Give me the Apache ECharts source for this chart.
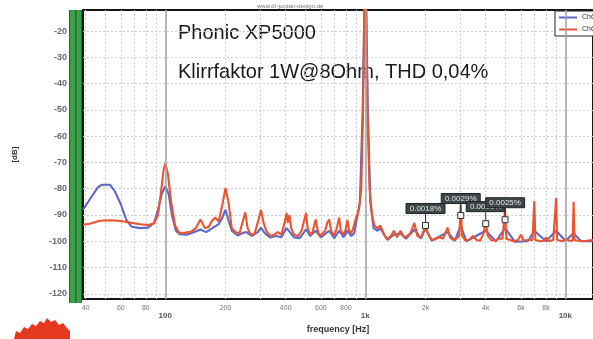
<!DOCTYPE html>
<html>
<head>
<meta charset="utf-8">
<script src="https://cdn.jsdelivr.net/npm/echarts@6/dist/echarts.min.js"></script>
<style>
  html, body { margin: 0; padding: 0; background: #fff; }
  #chart { width: 593px; height: 339px; }
</style>
</head>
<body>
<div id="chart"></div>
<script>
// spectrum, channel 1 (blue) as [Hz, dB]
const ch61 = [
  [38.8, -88], [42, -84], [46, -79.5], [48, -78.5], [53, -78.5], [56, -81], [60, -86], [64, -92],
  [68, -94.5], [75, -95], [82, -94.8], [88, -93], [92, -88], [96, -82], [100, -79.1], [104, -82],
  [108, -90], [113, -96], [118, -97.3], [128, -97.5], [140, -96.5], [150, -95.5], [160, -96.5],
  [172, -95], [185, -93.5], [193, -91], [200, -88], [207, -92], [215, -96], [230, -97.8], [245, -96.8],
  [255, -96.5], [270, -98], [290, -96.5], [301, -94.8], [315, -97], [335, -98.6], [360, -98],
  [380, -98.5], [404, -95], [420, -96.5], [440, -98.5], [470, -98.8], [506, -95.5], [530, -98],
  [565, -96], [600, -98.5], [660, -96], [700, -98.8], [740, -96], [780, -98.5], [814, -96],
  [850, -98], [880, -97], [900, -93], [940, -85], [970, -50], [990, -10], [1000, 0], [1010, -10],
  [1030, -50], [1060, -85], [1100, -95], [1150, -96], [1190, -95], [1290, -99.5], [1390, -97.5],
  [1500, -97], [1600, -99], [1760, -95.5], [1900, -99], [2000, -95], [2150, -99.8], [2580, -96.5],
  [2800, -99.8], [3000, -94], [3200, -100], [4000, -96], [4500, -100], [5000, -95], [5600, -100.2],
  [6500, -100], [7000, -96], [8000, -100], [9000, -96], [10000, -99.8], [11000, -97],
  [12000, -100], [13750, -100]
];

// spectrum, channel 2 (red) as [Hz, dB]
const ch60 = [
  [38.8, -93.7], [42, -93.3], [47, -92.2], [53, -92], [60, -92.3], [68, -93], [75, -93.5], [82, -93.8],
  [88, -93.2], [92, -90], [95, -82], [98, -73], [100, -70.4], [103, -74], [107, -85], [112, -94],
  [117, -96.7], [125, -96.8], [135, -96.3], [142, -95], [150, -91.7], [158, -95], [165, -94.5],
  [172, -92], [178, -91], [185, -92.5], [193, -86], [200, -79.8], [207, -85], [215, -95], [225, -96.5],
  [235, -97], [245, -92], [251, -89], [258, -95], [268, -97.5], [280, -97], [292, -92], [301, -88],
  [310, -93], [320, -96], [335, -98], [350, -97.5], [365, -96.5], [380, -97.5], [395, -93], [404, -89.2],
  [410, -93], [418, -90], [426, -95], [440, -97.5], [460, -98], [480, -96], [495, -92], [506, -89.2],
  [515, -95], [530, -97.5], [545, -96.5], [565, -91.7], [575, -95], [590, -98], [610, -97], [630, -96],
  [645, -93], [660, -91.7], [675, -96], [700, -98], [720, -95], [740, -91], [755, -96], [775, -97.5],
  [795, -96], [814, -92], [830, -96], [850, -97], [870, -95], [900, -91], [930, -88], [955, -80],
  [975, -50], [990, -10], [1000, 0], [1010, -10], [1025, -50], [1050, -80], [1080, -90], [1110, -94],
  [1150, -95], [1190, -94], [1240, -97.5], [1290, -99.2], [1340, -98], [1390, -96], [1440, -98.5],
  [1500, -96], [1560, -98.5], [1620, -98], [1680, -97], [1760, -93], [1820, -98], [1900, -98.5],
  [1960, -96], [2000, -93.5], [2050, -97], [2150, -99.5], [2250, -99], [2350, -98.5], [2450, -99],
  [2580, -94.8], [2650, -98.5], [2750, -99.5], [2850, -99], [2950, -98], [3000, -86], [3050, -98],
  [3150, -99.5], [3300, -99.5], [3450, -98], [3600, -99.5], [3750, -99.8], [3900, -97], [4000, -92.5],
  [4100, -98], [4250, -99.5], [4450, -99.8], [4650, -99], [4850, -99], [4930, -99], [5000, -88],
  [5070, -99], [5300, -99.5], [5500, -100], [5800, -99.5], [6000, -97.5], [6200, -99.8], [6500, -99.5],
  [6850, -99.5], [6920, -99.5], [7000, -84.7], [7080, -99.5], [7500, -100], [7800, -99.8], [8000, -98.5],
  [8300, -100], [8700, -99.5], [8900, -99.5], [9000, -83.5], [9100, -99.5], [9700, -100], [10000, -99],
  [10500, -99.8], [10880, -99.8], [11000, -85], [11120, -99.5], [12000, -100], [12700, -99.8],
  [13750, -99.5]
];

// harmonic markers
const harmFreq = [2000, 3000, 4000, 5000];
const harmDb = [-94, -90.2, -93.3, -91.8];
const harmText = ['0.0018%', '0.0029%', '0.0021%', '0.0025%'];

// axis ticks
const gridFreqs = [40, 50, 60, 70, 80, 90, 100, 200, 300, 400, 500, 600, 700, 800, 900,
  1000, 2000, 3000, 4000, 5000, 6000, 7000, 8000, 9000, 10000];
const labelFreqs = [40, 60, 80, 100, 200, 400, 600, 800, 1000, 2000, 4000, 6000, 8000, 10000];
const decadeFreqs = [100, 1000, 10000];
const dbTicks = [-120, -110, -100, -90, -80, -70, -60, -50, -40, -30, -20];

const chart = echarts.init(document.getElementById('chart'));
const FONT = '"Liberation Sans", Arial, sans-serif';

function fmtFreq(v) {
  return v >= 1000 ? (v / 1000) + 'k' : String(v);
}

chart.setOption({
  animation: false,
  backgroundColor: '#fff',
  textStyle: { fontFamily: FONT },
  grid: {
    left: 83, top: 10, right: -5, bottom: 36,
    show: true, borderColor: '#151515', borderWidth: 2, backgroundColor: '#fff'
  },
  legend: {
    left: 555, top: 11, orient: 'vertical',
    icon: 'rect', itemWidth: 18, itemHeight: 2, itemGap: 5,
    backgroundColor: '#fff', borderColor: '#222', borderWidth: 1, padding: [3, 4],
    textStyle: { fontSize: 7, color: '#333' },
    data: ['Ch61', 'Ch60']
  },
  xAxis: {
    type: 'log', min: 38.8, max: 13750,
    name: 'frequency [Hz]', nameLocation: 'middle', nameGap: 18,
    nameTextStyle: { fontSize: 9, fontWeight: 'bold', color: '#333' },
    axisLine: { show: false },
    axisTick: { show: false, customValues: gridFreqs },
    axisLabel: {
      customValues: labelFreqs, margin: 5, fontSize: 7, color: '#777', lineHeight: 8,
      formatter: function (v) {
        const t = fmtFreq(v);
        return decadeFreqs.indexOf(v) >= 0 ? '\n{d|' + t + '}' : t;
      },
      rich: { d: { fontSize: 8, fontWeight: 'bold', color: '#555', lineHeight: 8 } }
    },
    splitLine: { show: true, lineStyle: { color: '#cfcfcf', type: [2, 2], width: 1 } }
  },
  yAxis: {
    type: 'value', min: -122, max: -12,
    name: '[dB]', nameLocation: 'middle', nameGap: 64, nameRotate: 90,
    nameTextStyle: { fontSize: 8, fontWeight: 'bold', color: '#333' },
    axisLine: { show: false },
    axisTick: { show: false, customValues: dbTicks },
    axisLabel: { customValues: dbTicks, margin: 16, fontSize: 9, fontWeight: 'bold', color: '#6a6a6a' },
    splitLine: { show: true, lineStyle: { color: '#cfcfcf', type: [2, 2], width: 1 } }
  },
  series: [
    {
      name: 'Ch61', type: 'line', data: ch61, showSymbol: false, z: 2,
      color: '#5b68c6', lineStyle: { width: 2.1 },
      markLine: {
        silent: true, symbol: ['none', 'none'], label: { show: false },
        lineStyle: { color: '#a2a2a2', width: 1.5, type: 'solid' },
        data: decadeFreqs.map(function (v) { return { xAxis: v }; })
      }
    },
    {
      name: 'Ch60', type: 'line', data: ch60, showSymbol: false, z: 3,
      color: '#ea5430', lineStyle: { width: 2.1 }
    },
    {
      type: 'custom', z: 5, clip: false,
      data: harmFreq.map(function (f, i) { return [f, harmDb[i]]; }),
      renderItem: function (params, api) {
        const p = api.coord([api.value(0), api.value(1)]);
        const bw = 39, bh = 10, gap = 12;
        return {
          type: 'group',
          children: [
            { type: 'line', shape: { x1: p[0], y1: p[1] - 3, x2: p[0], y2: p[1] - gap },
              style: { stroke: '#333', lineWidth: 1 } },
            { type: 'rect', shape: { x: p[0] - 3, y: p[1] - 3, width: 6, height: 6 },
              style: { fill: '#f2f2f2', stroke: '#333', lineWidth: 1 } },
            { type: 'rect', shape: { x: p[0] - bw / 2, y: p[1] - gap - bh, width: bw, height: bh },
              style: { fill: '#3d4749', stroke: '#222', lineWidth: 1 } },
            { type: 'text', style: { x: p[0], y: p[1] - gap - bh / 2 + 0.5, text: harmText[params.dataIndex],
              fill: '#e4e4e4', font: '8px ' + FONT, align: 'center', verticalAlign: 'middle' } }
          ]
        };
      }
    }
  ],
  graphic: [
    // level meter bar on the left
    { type: 'rect', shape: { x: 69, y: 10, width: 13, height: 293 }, style: { fill: '#1f6e2a' } },
    { type: 'rect', shape: { x: 70, y: 10, width: 5, height: 293 }, style: { fill: '#3e9f4a' } },
    { type: 'rect', shape: { x: 76.5, y: 10, width: 4.5, height: 293 }, style: { fill: '#3e9f4a' } },
    { type: 'text', left: 178, top: 23, style: { text: 'Phonic XP5000', font: '20px ' + FONT, fill: '#1a1a1a' } },
    { type: 'text', left: 178, top: 62, style: { text: 'Klirrfaktor 1W@8Ohm, THD 0,04%', font: '20px ' + FONT, fill: '#1a1a1a' } },
    { type: 'text', left: 256, top: 3, style: { text: 'www.dr-jordan-design.de', font: '6px ' + FONT, fill: '#777',
      backgroundColor: '#fff', padding: [0, 1] } },
    { type: 'polygon', shape: { points: [[14, 339], [16, 331], [20, 333], [24, 327], [28, 329], [32, 324],
      [36, 326], [40, 321], [44, 323], [47, 318], [51, 322], [55, 320], [59, 325], [63, 323], [67, 328],
      [70, 331], [70, 339]] }, style: { fill: '#e5391e' } }
  ]
});
</script>
</body>
</html>
